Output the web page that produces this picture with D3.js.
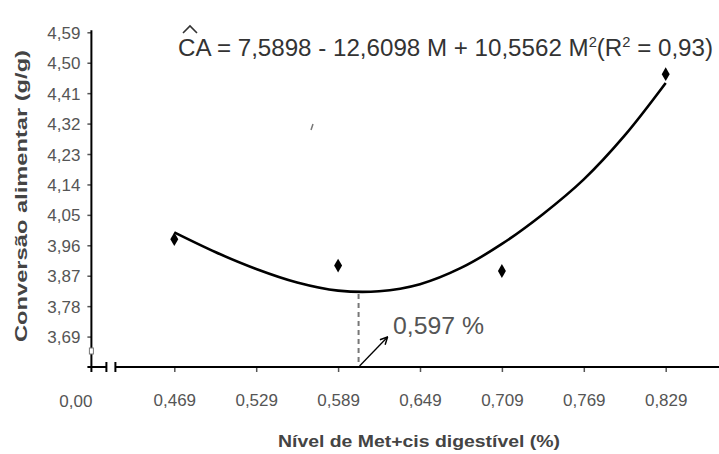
<!DOCTYPE html>
<html><head><meta charset="utf-8">
<script src="https://cdn.jsdelivr.net/npm/d3@7/dist/d3.min.js"></script>
<style>
body{margin:0;background:#fff;}
svg{display:block;}
text{font-family:"Liberation Sans",Arial,sans-serif;}
</style></head>
<body><svg id="c" width="719" height="454"></svg>
<script>
// ---- data ----
const levels = [0.469, 0.589, 0.709, 0.829];
const observed = [3.978, 3.900, 3.884, 4.466];
const curveX = [0.469, 0.499, 0.529, 0.559, 0.589, 0.619, 0.649, 0.679, 0.709, 0.739, 0.769, 0.799, 0.829];
const curveY = [3.998, 3.940, 3.890, 3.850, 3.826, 3.824, 3.845, 3.893, 3.964, 4.052, 4.155, 4.285, 4.440];
const yTickValues = [3.69, 3.78, 3.87, 3.96, 4.05, 4.14, 4.23, 4.32, 4.41, 4.50, 4.59];
const xTickValues = [0.469, 0.529, 0.589, 0.649, 0.709, 0.769, 0.829];
const breakValue = 0.409;      // where the broken axis shows "0,00"
const optimumLabel = "0,597 %";
const optimumLine = 0.604;     // dashed drop line as drawn
const yMin = 3.60, yMax = 4.59;

const svg = d3.select("#c");
const x = d3.scaleLinear().domain([0.469, 0.829]).range([174.3, 665.7]);
const y = d3.scaleLinear().domain([yMin, yMax]).range([367, 32.3]);
const comma = v => d3.format(".2f")(v).replace(".", ",");
const comma3 = v => d3.format(".3f")(v).replace(".", ",");
const x0 = x(breakValue) - 1;

// y axis
const yAxis = svg.append("g").attr("transform", `translate(${x0},0)`)
  .call(d3.axisLeft(y).tickValues(yTickValues).tickFormat(comma).tickSize(4).tickPadding(7));
yAxis.select(".domain").remove();
yAxis.selectAll(".tick line").attr("stroke", "#555").attr("stroke-width", 1.5);
yAxis.selectAll(".tick text").attr("font-size", 17).attr("fill", "#555").attr("dy", "0.36em");
svg.append("line").attr("x1", x0).attr("x2", x0).attr("y1", y(yMax) - 2).attr("y2", y(yMin) + 5)
  .attr("stroke", "#000").attr("stroke-width", 2);
// y break symbol
svg.append("rect").attr("x", x0 - 2).attr("y", y(yMin) - 19).attr("width", 4).attr("height", 6)
  .attr("fill", "#fff").attr("stroke", "#777").attr("stroke-width", 1);

// x axis
const xAxis = svg.append("g").attr("transform", `translate(0,${y(yMin)})`)
  .call(d3.axisBottom(x).tickValues(xTickValues).tickFormat(comma3).tickSize(5).tickPadding(22));
xAxis.select(".domain").remove();
xAxis.selectAll(".tick line").attr("stroke", "#555").attr("stroke-width", 1.5);
xAxis.selectAll(".tick text").attr("font-size", 17).attr("fill", "#555");
const ya = y(yMin);
svg.append("line").attr("x1", x0 - 4).attr("x2", x0 + 15).attr("y1", ya).attr("y2", ya).attr("stroke", "#000").attr("stroke-width", 2);
svg.append("line").attr("x1", x0 + 15).attr("x2", x0 + 15).attr("y1", ya - 5).attr("y2", ya + 5).attr("stroke", "#000").attr("stroke-width", 2);
svg.append("line").attr("x1", x0 + 24).attr("x2", x0 + 24).attr("y1", ya - 5).attr("y2", ya + 5).attr("stroke", "#000").attr("stroke-width", 2);
svg.append("line").attr("x1", x0 + 24).attr("x2", 719).attr("y1", ya).attr("y2", ya).attr("stroke", "#000").attr("stroke-width", 2);
svg.append("text").attr("x", x0 + 1).attr("y", ya + 40).attr("text-anchor", "end")
  .attr("font-size", 17).attr("fill", "#555").text("0,00");

// axis titles
svg.append("text").attr("transform", `translate(27,196) rotate(-90)`).attr("text-anchor", "middle")
  .attr("font-size", 17).attr("font-weight", "bold").attr("fill", "#444")
  .attr("textLength", 292).attr("lengthAdjust", "spacingAndGlyphs").text("Conversão alimentar (g/g)");
svg.append("text").attr("x", 419).attr("y", 447).attr("text-anchor", "middle")
  .attr("font-size", 17).attr("font-weight", "bold").attr("fill", "#444")
  .attr("textLength", 282).attr("lengthAdjust", "spacingAndGlyphs").text("Nível de Met+cis digestível (%)");

// fitted curve
const pts = curveX.map((v, i) => [v, curveY[i]]);
svg.append("path").datum(pts)
  .attr("d", d3.line().x(d => x(d[0])).y(d => y(d[1])).curve(d3.curveCatmullRom.alpha(0.5)))
  .attr("fill", "none").attr("stroke", "#000").attr("stroke-width", 2.6);

// observed points
svg.selectAll(".pt").data(levels).enter().append("path")
  .attr("transform", (d, i) => `translate(${x(d)},${y(observed[i])})`)
  .attr("d", d3.symbol().type(d3.symbolDiamond).size(55)).attr("fill", "#000");

// optimum annotation
svg.append("line").attr("x1", x(optimumLine)).attr("x2", x(optimumLine))
  .attr("y1", y(3.822) + 2).attr("y2", ya - 1)
  .attr("stroke", "#777").attr("stroke-width", 2).attr("stroke-dasharray", "5,4");
svg.append("defs").append("marker").attr("id", "ah").attr("viewBox", "0 0 10 10")
  .attr("refX", 9).attr("refY", 5).attr("markerWidth", 7).attr("markerHeight", 7).attr("orient", "auto")
  .append("path").attr("d", "M1,1 L9,5 L1,9").attr("fill", "none").attr("stroke", "#000").attr("stroke-width", 1.6);
svg.append("line").attr("x1", x(optimumLine) + 1).attr("y1", ya - 1).attr("x2", x(optimumLine) + 29).attr("y2", ya - 30)
  .attr("stroke", "#000").attr("stroke-width", 1.3).attr("marker-end", "url(#ah)");
svg.append("text").attr("x", 393).attr("y", 334).attr("font-size", 23).attr("fill", "#555")
  .attr("textLength", 91).attr("lengthAdjust", "spacingAndGlyphs").text(optimumLabel);

// equation
const eq = svg.append("text").attr("x", 178).attr("y", 56).attr("font-size", 23).attr("fill", "#333")
  .attr("textLength", 535).attr("lengthAdjust", "spacingAndGlyphs");
eq.append("tspan").text("CA = 7,5898 - 12,6098  M + 10,5562 M");
eq.append("tspan").attr("font-size", 14).attr("dy", -9).text("2");
eq.append("tspan").attr("dy", 9).text("(R");
eq.append("tspan").attr("font-size", 14).attr("dy", -9).text("2");
eq.append("tspan").attr("dy", 9).text(" = 0,93)");
svg.append("path").attr("d", "M183,33 L190,26 L197,33").attr("fill", "none").attr("stroke", "#333").attr("stroke-width", 1.6);

// stray mark
svg.append("line").attr("x1", 311).attr("y1", 130).attr("x2", 313).attr("y2", 124).attr("stroke", "#777").attr("stroke-width", 1.5);
</script></body></html>
